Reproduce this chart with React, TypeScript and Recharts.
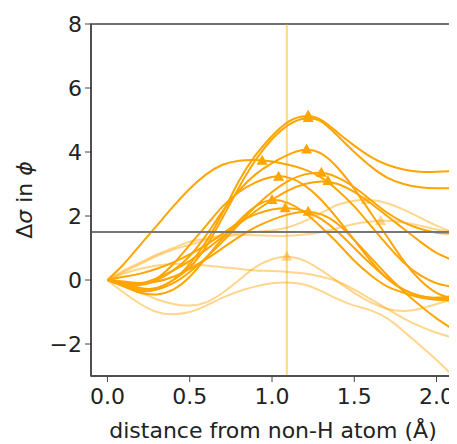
import { ComposedChart, Line, Scatter, XAxis, YAxis, ReferenceLine, ReferenceArea } from 'recharts';

// distance grid (Å)
const distance = [0, 0.1, 0.2, 0.3, 0.4, 0.5, 0.6, 0.7, 0.8, 0.9, 1.0, 1.1, 1.2, 1.3, 1.4, 1.5, 1.6, 1.7, 1.8, 1.9, 2.0, 2.1];

// strong (opaque) curves
const strongA = [0, -0.15, -0.3, -0.25, 0.0, 0.5, 1.2, 2.1, 3.1, 3.9, 4.5, 4.95, 5.12, 5.0, 4.6, 4.2, 3.85, 3.6, 3.45, 3.38, 3.38, 3.4];
const strongB = [0, -0.1, -0.25, -0.25, 0.0, 0.4, 1.05, 1.95, 2.9, 3.75, 4.4, 4.85, 5.05, 4.95, 4.5, 4.0, 3.55, 3.2, 3.0, 2.9, 2.87, 2.87];
const strongC = [0, -0.1, -0.15, 0.0, 0.3, 0.75, 1.4, 2.15, 2.8, 3.3, 3.65, 3.92, 4.07, 3.95, 3.5, 2.85, 2.1, 1.35, 0.6, 0.0, -0.4, -0.6];
const strongD = [0, 0.5, 1.1, 1.7, 2.3, 2.85, 3.3, 3.6, 3.73, 3.75, 3.7, 3.6, 3.45, 3.2, 2.8, 2.3, 1.7, 1.1, 0.55, 0.15, -0.1, -0.22];
const strongE = [0, -0.1, -0.15, 0.05, 0.5, 1.1, 1.7, 2.3, 2.75, 3.05, 3.22, 3.2, 2.95, 2.5, 1.9, 1.25, 0.6, 0.05, -0.3, -0.5, -0.55, -0.5];
const strongF = [0, -0.2, -0.35, -0.3, -0.1, 0.25, 0.7, 1.2, 1.75, 2.3, 2.75, 3.1, 3.3, 3.35, 3.2, 2.9, 2.5, 2.1, 1.8, 1.6, 1.48, 1.45];
const strongG = [0, -0.1, -0.1, 0.05, 0.3, 0.6, 0.95, 1.35, 1.75, 2.15, 2.5, 2.8, 3.0, 3.08, 3.0, 2.75, 2.4, 2.0, 1.6, 1.2, 0.85, 0.62];
const strongH = [0, -0.2, -0.4, -0.45, -0.3, 0.1, 0.7, 1.3, 1.85, 2.3, 2.5, 2.4, 2.1, 1.65, 1.15, 0.6, 0.15, -0.2, -0.4, -0.55, -0.62, -0.65];
const strongI = [0, 0.1, 0.2, 0.35, 0.55, 0.8, 1.1, 1.45, 1.8, 2.05, 2.2, 2.24, 2.15, 1.9, 1.5, 1.0, 0.5, 0.05, -0.3, -0.5, -0.58, -0.6];
const strongJ = [0, -0.05, -0.1, -0.05, 0.1, 0.35, 0.65, 1.0, 1.35, 1.65, 1.88, 2.05, 2.13, 2.05, 1.75, 1.25, 0.7, 0.15, -0.35, -0.8, -1.2, -1.54];

// faint (transparent) curves
const faintA = [0, -0.2, -0.4, -0.6, -0.75, -0.8, -0.7, -0.4, 0.0, 0.4, 0.65, 0.73, 0.6, 0.3, -0.05, -0.4, -0.7, -0.9, -0.97, -0.9, -0.75, -0.6];
const faintB = [0, 0.3, 0.55, 0.8, 1.0, 1.2, 1.3, 1.4, 1.45, 1.5, 1.55, 1.65, 1.85, 2.1, 2.35, 2.48, 2.5, 2.4, 2.2, 1.95, 1.7, 1.5];
const faintC = [0, 0.25, 0.5, 0.75, 0.95, 1.1, 1.25, 1.35, 1.4, 1.4, 1.38, 1.38, 1.42, 1.5, 1.62, 1.75, 1.83, 1.85, 1.8, 1.7, 1.58, 1.5];
const faintD = [0, -0.4, -0.75, -1.0, -1.07, -1.0, -0.8, -0.55, -0.35, -0.2, -0.1, -0.08, -0.15, -0.35, -0.6, -0.8, -0.95, -1.2, -1.6, -2.05, -2.5, -3.0];
const faintE = [0, 0.2, 0.35, 0.45, 0.5, 0.5, 0.45, 0.4, 0.35, 0.3, 0.28, 0.25, 0.2, 0.1, -0.05, -0.3, -0.6, -0.9, -1.2, -1.45, -1.65, -1.8];

const strongSeries = [strongA, strongB, strongC, strongD, strongE, strongF, strongG, strongH, strongI, strongJ];
const faintSeries = [faintA, faintB, faintC, faintD, faintE];

// triangle markers at curve maxima
const strongPeaks = [
  { x: 1.22, y: 5.14 },
  { x: 1.22, y: 5.06 },
  { x: 1.21, y: 4.08 },
  { x: 0.94, y: 3.73 },
  { x: 1.04, y: 3.23 },
  { x: 1.3, y: 3.35 },
  { x: 1.34, y: 3.09 },
  { x: 1.0, y: 2.5 },
  { x: 1.08, y: 2.24 },
  { x: 1.22, y: 2.13 },
];
const faintPeaks = [
  { x: 1.09, y: 0.73 },
  { x: 1.57, y: 2.5 },
  { x: 1.66, y: 1.84 },
];

const xTicks = [0, 0.5, 1, 1.5, 2];
const yTicks = [-2, 0, 2, 4, 6, 8];

const ORANGE = '#ffa500';
const FONT = '"DejaVu Sans", sans-serif';

const rows = distance.map((x, i) => {
  const row: Record<string, number> = { x };
  strongSeries.forEach((s, k) => (row[`s${k}`] = s[i]));
  faintSeries.forEach((s, k) => (row[`f${k}`] = s[i]));
  return row;
});

const triangle = (opacity: number) => (props: any) => {
  const { cx, cy } = props;
  if (cx == null || cy == null) return <g />;
  return (
    <polygon
      points={`${cx},${cy - 6} ${cx - 5.5},${cy + 4} ${cx + 5.5},${cy + 4}`}
      fill={ORANGE}
      fillOpacity={opacity}
    />
  );
};

const fmtY = (v: number) => (v < 0 ? `\u2212${-v}` : `${v}`);

export default function App() {
  return (
    <ComposedChart width={449} height={436} data={rows} margin={{ top: 16, right: 4, left: 0, bottom: 0 }}>
      <XAxis
        dataKey="x"
        type="number"
        domain={[-0.1, 2.1]}
        ticks={xTicks}
        allowDataOverflow
        tickFormatter={(v: number) => v.toFixed(1)}
        tick={{ fontSize: 22, fill: '#222', fontFamily: FONT }}
        tickSize={6}
        tickMargin={6}
        axisLine={{ stroke: '#444', strokeWidth: 1.5 }}
        tickLine={{ stroke: '#444' }}
        height={68}
        label={{
          content: () => (
            <text x={265} y={430} textAnchor="middle" fontSize={22} fontFamily={FONT} fill="#222">
              distance from non-H atom (Å)
            </text>
          ),
        }}
      />
      <YAxis
        type="number"
        domain={[-3, 8]}
        ticks={yTicks}
        allowDataOverflow
        tickFormatter={fmtY}
        tick={{ fontSize: 22, fill: '#222', fontFamily: FONT }}
        tickSize={6}
        tickMargin={3}
        axisLine={{ stroke: '#444', strokeWidth: 1.5 }}
        tickLine={{ stroke: '#444' }}
        width={83}
        label={{
          content: () => (
            <text
              x={24}
              y={192}
              textAnchor="middle"
              fontSize={22}
              fontFamily={FONT}
              fill="#222"
              transform="rotate(-90 24 192)"
            >
              Δ<tspan fontStyle="italic">σ</tspan> in <tspan fontStyle="italic">ϕ</tspan>
            </text>
          ),
        }}
      />
      <ReferenceArea x1={-0.1} x2={2.1} y1={-3} y2={8} fill="none" stroke="#444" strokeWidth={1.5} ifOverflow="visible" />
      <ReferenceLine x={1.09} stroke={ORANGE} strokeOpacity={0.45} strokeWidth={2} />
      {faintSeries.map((_, k) => (
        <Line
          key={`f${k}`}
          dataKey={`f${k}`}
          type="natural"
          stroke={ORANGE}
          strokeOpacity={0.45}
          strokeWidth={2}
          dot={false}
          activeDot={false}
          isAnimationActive={false}
        />
      ))}
      {strongSeries.map((_, k) => (
        <Line
          key={`s${k}`}
          dataKey={`s${k}`}
          type="natural"
          stroke={ORANGE}
          strokeWidth={2}
          dot={false}
          activeDot={false}
          isAnimationActive={false}
        />
      ))}
      <Scatter data={faintPeaks} dataKey="y" shape={triangle(0.45)} isAnimationActive={false} />
      <Scatter data={strongPeaks} dataKey="y" shape={triangle(1)} isAnimationActive={false} />
      <ReferenceLine y={1.5} stroke="#777" strokeWidth={2} />
    </ComposedChart>
  );
}
